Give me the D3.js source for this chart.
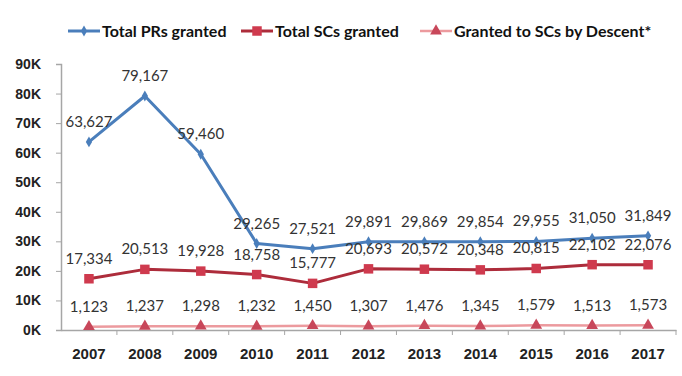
<!DOCTYPE html>
<html>
<head>
<meta charset="utf-8">
<script src="https://cdn.jsdelivr.net/npm/d3@7"></script>
<style>
  body { margin: 0; background: #fff; }
  svg { font-family: Lato, "Open Sans", sans-serif; }
</style>
</head>
<body>
<div id="chart"></div>
<script>
// data
const years = ["2007","2008","2009","2010","2011","2012","2013","2014","2015","2016","2017"];
const prsGranted = [63627, 79167, 59460, 29265, 27521, 29891, 29869, 29854, 29955, 31050, 31849];
const scsGranted = [17334, 20513, 19928, 18758, 15777, 20693, 20572, 20348, 20815, 22102, 22076];
const scsDescent = [1123, 1237, 1298, 1232, 1450, 1307, 1476, 1345, 1579, 1513, 1573];
const yTicks = [0, 10000, 20000, 30000, 40000, 50000, 60000, 70000, 80000, 90000];

const width = 682, height = 376;
const margin = { top: 64, right: 6, bottom: 46, left: 61 };

const series = [
  { name: "Total PRs granted", values: prsGranted, line: "#4a7ebb", mark: "#4a7ebb", shape: d3.symbolDiamond, size: 34, w: 3 },
  { name: "Total SCs granted", values: scsGranted, line: "#ad2c3b", mark: "#cf3a4e", shape: d3.symbolSquare, size: 90, w: 3 },
  { name: "Granted to SCs by Descent*", values: scsDescent, line: "#ec9a9e", mark: "#c8475a", shape: d3.symbolTriangle, size: 60, w: 2.5 }
];

const svg = d3.select("#chart").append("svg")
  .attr("width", width).attr("height", height);

const x = d3.scaleBand().domain(years)
  .range([margin.left, width - margin.right]);
const y = d3.scaleLinear().domain([0, 90000])
  .range([height - margin.bottom, margin.top]);

const axisColor = "#a6a6a6";

// y axis
const yAxis = svg.append("g")
  .attr("transform", `translate(${margin.left},0)`)
  .call(d3.axisLeft(y).tickValues(yTicks).tickSize(5).tickPadding(15)
    .tickFormat(d => (d / 1000) + "K"));
yAxis.select(".domain").attr("stroke", axisColor).attr("stroke-width", 1.5);
yAxis.selectAll(".tick line").attr("stroke", axisColor);
yAxis.selectAll(".tick text")
  .attr("fill", "#222").attr("font-weight", "bold").attr("font-size", 14);

// x axis (ticks between categories)
const xAxis = svg.append("g")
  .attr("transform", `translate(0,${y(0)})`)
  .call(d3.axisBottom(x).tickSize(0).tickPadding(18));
xAxis.select(".domain").attr("stroke", axisColor).attr("stroke-width", 1.5);
xAxis.selectAll(".tick text")
  .attr("fill", "#222").attr("font-weight", "bold").attr("font-size", 15);
xAxis.selectAll(".sep")
  .data(years)
  .join("line")
  .attr("class", "sep")
  .attr("x1", (d, i) => x.range()[0] + x.step() * (i + 1))
  .attr("x2", (d, i) => x.range()[0] + x.step() * (i + 1))
  .attr("y1", 0).attr("y2", 5)
  .attr("stroke", axisColor);

const line = d3.line()
  .x((d, i) => x(years[i]) + x.bandwidth() / 2)
  .y(d => y(d));

series.forEach(s => {
  const g = svg.append("g");
  g.append("path")
    .datum(s.values)
    .attr("d", line)
    .attr("fill", "none")
    .attr("stroke", s.line)
    .attr("stroke-width", s.w)
    .attr("stroke-linejoin", "round");
  g.selectAll("path.mark")
    .data(s.values)
    .join("path")
    .attr("class", "mark")
    .attr("d", d3.symbol().type(s.shape).size(s.size))
    .attr("transform", (d, i) => `translate(${x(years[i]) + x.bandwidth() / 2},${y(d)})`)
    .attr("fill", s.mark);
  g.selectAll("text")
    .data(s.values)
    .join("text")
    .attr("x", (d, i) => x(years[i]) + x.bandwidth() / 2)
    .attr("y", d => y(d) - 15)
    .attr("text-anchor", "middle")
    .attr("font-size", 15)
    .attr("fill", "#333")
    .text(d3.format(","));
});

// legend
const legendX = [68, 241, 420];
const legend = svg.append("g");
series.forEach((s, i) => {
  const lg = legend.append("g").attr("transform", `translate(${legendX[i]},31)`);
  lg.append("line")
    .attr("x1", 0).attr("x2", 32).attr("y1", 0).attr("y2", 0)
    .attr("stroke", s.line).attr("stroke-width", s.w);
  lg.append("path")
    .attr("d", d3.symbol().type(s.shape).size(s.size))
    .attr("transform", "translate(16,0)")
    .attr("fill", s.mark);
  lg.append("text")
    .attr("x", 34).attr("y", 6)
    .attr("font-size", 16).attr("font-weight", "bold")
    .attr("fill", "#111")
    .text(s.name);
});
</script>
</body>
</html>
